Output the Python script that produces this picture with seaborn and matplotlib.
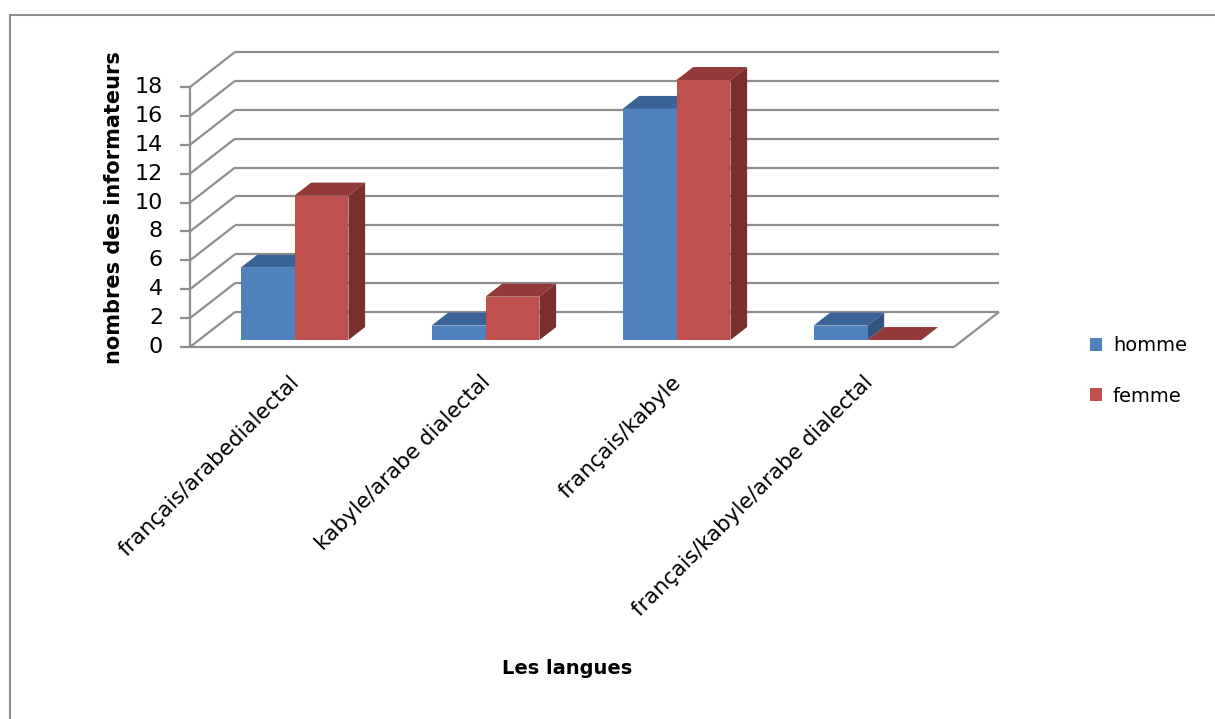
import matplotlib
matplotlib.use("Agg")
import matplotlib.pyplot as plt
from matplotlib.patches import Polygon, Rectangle, Patch
import numpy as np
import pandas as pd
import seaborn as sns

# --- data -------------------------------------------------------------
categories = ["français/arabedialectal", "kabyle/arabe dialectal",
              "français/kabyle", "français/kabyle/arabe dialectal"]
homme = [5, 1, 16, 1]
femme = [10, 3, 18, 0]
series = ["homme", "femme"]
y_ticks = list(range(0, 20, 2))

df = pd.DataFrame({
    "langue": categories * 2,
    "sexe": ["homme"] * len(categories) + ["femme"] * len(categories),
    "n": homme + femme,
})

# --- style ------------------------------------------------------------
sns.set_style("white")
plt.rcParams["font.family"] = ["DejaVu Sans"]
plt.rcParams["text.color"] = "black"

W, H = 1215, 719
fig = plt.figure(figsize=(W / 100, H / 100), dpi=100)
ax = fig.add_axes([0, 0, 1, 1])

front = {"homme": "#4F81BD", "femme": "#C0504D"}
top = {"homme": "#3B6395", "femme": "#933A38"}
side = {"homme": "#31557F", "femme": "#7B2F2D"}
grid_c = "#8E8E8E"

sns.barplot(data=df, x="langue", y="n", hue="sexe", hue_order=series,
            palette=[front[s] for s in series], width=0.565, saturation=1,
            errorbar=None, linewidth=0, legend=False, ax=ax)

# pixel-like scale: 191 px per category, 14.44 px per unit
px_cat, px_unit = 191.0, 260.0 / 18
x0_px, y0_px = 190.0, 347.0
ax.set_xlim(-0.5 - x0_px / px_cat, -0.5 + (W - x0_px) / px_cat)
ax.set_ylim(-(H - y0_px) / px_unit, y0_px / px_unit)
ax.axis("off")

# depth of the box (full depth) in data units
DX, DY = 45 / px_cat, 35 / px_unit
n = len(categories)
xl, xr = -0.5, n - 0.5
ymax = y_ticks[-1]

line_kw = dict(color=grid_c, lw=1.6, solid_capstyle="butt", zorder=1)
# back wall gridlines and left wall diagonals
for v in y_ticks:
    ax.plot([xl + DX, xr + DX], [v + DY, v + DY], **line_kw)
    ax.plot([xl, xl + DX], [v, v + DY], **line_kw)
# floor front and right edges
ax.plot([xl, xr], [0, 0], **line_kw)
ax.plot([xr, xr + DX], [0, DY], **line_kw)
# front vertical axis with tick marks
ax.plot([xl, xl], [0, ymax], **line_kw)
for v in y_ticks:
    ax.plot([xl - 10 / px_cat, xl], [v, v], **line_kw)
    ax.text(xl - 27 / px_cat, v, f"{v}", ha="right", va="center",
            fontsize=16, color="black")

# 3-D faces of each bar; bars sit slightly inside the box
z_front, z_depth = 0.2, 0.37
ox, oy = z_front * DX, z_front * DY
ddx, ddy = z_depth * DX, z_depth * DY
for k, (s, cont) in enumerate(zip(series, ax.containers)):
    for bar in cont:
        bar.set_x(bar.get_x() + ox)
        bar.set_y(bar.get_y() + oy)
        bar.set_zorder(3 + k)
        bx, by = bar.get_x(), bar.get_y()
        bw, bh = bar.get_width(), bar.get_height()
        top_face = [(bx, by + bh), (bx + bw, by + bh),
                    (bx + bw + ddx, by + bh + ddy), (bx + ddx, by + bh + ddy)]
        side_face = [(bx + bw, by), (bx + bw, by + bh),
                     (bx + bw + ddx, by + bh + ddy), (bx + bw + ddx, by + ddy)]
        ax.add_patch(Polygon(top_face, closed=True, fc=top[s], ec="none",
                             zorder=2.9 + k))
        ax.add_patch(Polygon(side_face, closed=True, fc=side[s], ec="none",
                             zorder=2.9 + k))

# category labels, rotated under the floor
for i, lab in enumerate(categories):
    ax.text(i + 0.02, -25 / px_unit, lab, rotation=45, rotation_mode="anchor",
            ha="right", va="top", fontsize=15.5, color="black")

# axis titles
fig.text(567 / W, 1 - 668 / H, "Les langues", ha="center", va="center",
         fontsize=14, fontweight="bold", color="black")
fig.text(114 / W, 1 - 208 / H, "nombres des informateurs", rotation=90,
         ha="center", va="center", fontsize=15, fontweight="bold",
         color="black")

# legend
handles = [Patch(fc=front[s], ec="none") for s in series]
leg = fig.legend(handles, series, loc="center left",
                 bbox_to_anchor=(1072 / W, 1 - 371 / H), frameon=False,
                 fontsize=14, handlelength=0.65, handleheight=0.65,
                 handletextpad=0.55, labelspacing=1.6)
for t in leg.get_texts():
    t.set_color("black")

# chart area border
fig.patches.append(Rectangle((10 / W, -0.1), 1.2, 1.1 - 15 / H,
                             transform=fig.transFigure, fill=False,
                             ec="#8E8E8E", lw=1.5))

fig.savefig("out.png", dpi=100)
